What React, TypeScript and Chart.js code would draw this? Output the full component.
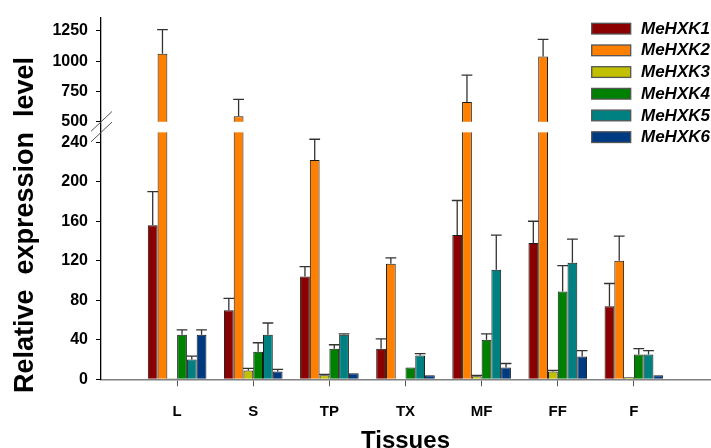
import React, { useEffect, useRef } from 'react';
import { Chart, registerables, LinearScale } from 'chart.js';

const categories = ['L', 'S', 'TP', 'TX', 'MF', 'FF', 'F'];
const seriesNames = ['MeHXK1', 'MeHXK2', 'MeHXK3', 'MeHXK4', 'MeHXK5', 'MeHXK6'];
const seriesColors = ['#8b0000', '#ff8000', '#c0c000', '#008000', '#008080', '#003a80'];

const hxk1 = [156, 70, 104, 31, 146, 138, 74];
const hxk1Err = [34, 12, 10, 10, 35, 22, 23];
const hxk2 = [1062, 545, 222, 117, 663, 1038, 120];
const hxk2Err = [198, 140, 21, 6, 222, 143, 25];
const hxk3 = [1, 9, 4, 0.6, 3, 8, 2];
const hxk3Err = [0, 2, 1, 0, 1, 1, 0];
const hxk4 = [45, 28, 31, 12, 40, 89, 25];
const hxk4Err = [5, 9, 4, 0, 6, 26, 6];
const hxk5 = [20, 45, 45, 24, 111, 118, 25];
const hxk5Err = [3.5, 12, 1, 2, 35, 24, 4];
const hxk6 = [45, 8, 6, 4, 12, 23, 4];
const hxk6Err = [5, 2, 0, 0, 4, 6, 0];

const seriesValues = [hxk1, hxk2, hxk3, hxk4, hxk5, hxk6];
const seriesErrors = [hxk1Err, hxk2Err, hxk3Err, hxk4Err, hxk5Err, hxk6Err];

const yTicks = [0, 40, 80, 120, 160, 200, 240, 500, 750, 1000, 1250];
const breakLow = 250;
const breakHigh = 500;
const yMax = 1360;
// axis segments: value range and relative pixel weight
const segments = [
  { from: 0, to: breakLow, weight: 250.3 },
  { from: breakLow, to: breakHigh, weight: 10.7 },
  { from: breakHigh, to: yMax, weight: 105.6 },
];

const FONT = "'Liberation Sans', Arial, sans-serif";

class BrokenScale extends LinearScale {
  static id = 'broken';
  static defaults = LinearScale.defaults;
  buildTicks() {
    return yTicks.map((v) => ({ value: v }));
  }
  getPixelForValue(value: number) {
    const total = segments.reduce((s, g) => s + g.weight, 0);
    let acc = 0;
    for (let k = 0; k < segments.length; k++) {
      const g = segments[k];
      if (value <= g.to || k === segments.length - 1) {
        const t = (value - g.from) / (g.to - g.from);
        const frac = (acc + t * g.weight) / total;
        return this.bottom - frac * (this.bottom - this.top);
      }
      acc += g.weight;
    }
    return this.bottom;
  }
  getValueForPixel(pixel: number) {
    const total = segments.reduce((s, g) => s + g.weight, 0);
    let w = ((this.bottom - pixel) / (this.bottom - this.top)) * total;
    for (let k = 0; k < segments.length; k++) {
      const g = segments[k];
      if (w <= g.weight || k === segments.length - 1) {
        return g.from + (w / g.weight) * (g.to - g.from);
      }
      w -= g.weight;
    }
    return 0;
  }
}

Chart.register(...registerables, BrokenScale);

const decorPlugin = {
  id: 'decor',
  afterDatasetsDraw(chart: any) {
    const { ctx, chartArea } = chart;
    const y = chart.scales.y;
    const y500 = y.getPixelForValue(breakHigh);
    const y250 = y.getPixelForValue(breakLow);
    ctx.save();
    // white band for the axis break
    ctx.fillStyle = '#ffffff';
    ctx.fillRect(chartArea.left + 1, y500, chartArea.right - chartArea.left, y250 - y500);
    // break marks
    ctx.strokeStyle = '#555555';
    ctx.lineWidth = 1;
    [y500, y250].forEach((py) => {
      ctx.beginPath();
      ctx.moveTo(chartArea.left - 10, py + 9.5);
      ctx.lineTo(chartArea.left + 11, py - 10.3);
      ctx.stroke();
    });
    // error bars
    ctx.strokeStyle = '#333333';
    ctx.lineWidth = 1.3;
    chart.data.datasets.forEach((ds: any, i: number) => {
      const meta = chart.getDatasetMeta(i);
      meta.data.forEach((bar: any, j: number) => {
        const err = seriesErrors[i][j];
        if (!err) return;
        const top = y.getPixelForValue(seriesValues[i][j] + err);
        const hw = bar.width / 2 + 0.5;
        ctx.beginPath();
        ctx.moveTo(bar.x, bar.y);
        ctx.lineTo(bar.x, top);
        ctx.moveTo(bar.x - hw, top);
        ctx.lineTo(bar.x + hw, top);
        ctx.stroke();
      });
    });
    ctx.restore();
  },
  afterDraw(chart: any) {
    const { ctx, chartArea } = chart;
    ctx.save();
    // legend
    const bx = 591.7;
    const by = 23.3;
    const rowH = 21.7;
    chart.data.datasets.forEach((ds: any, i: number) => {
      const top = by + i * rowH;
      ctx.fillStyle = ds.backgroundColor;
      ctx.fillRect(bx, top, 39, 10.7);
      ctx.strokeStyle = '#555555';
      ctx.lineWidth = 1.3;
      ctx.strokeRect(bx, top, 39, 10.7);
      ctx.fillStyle = '#000000';
      ctx.font = `italic bold 17px ${FONT}`;
      ctx.textAlign = 'left';
      ctx.textBaseline = 'middle';
      ctx.fillText(ds.label, 641, top + 5.8);
    });
    // axis titles
    ctx.fillStyle = '#000000';
    ctx.font = `bold 24px ${FONT}`;
    ctx.textAlign = 'center';
    ctx.textBaseline = 'alphabetic';
    ctx.fillText('Tissues', (chartArea.left + chartArea.right) / 2, 448);
    ctx.translate(33, 225);
    ctx.rotate(-Math.PI / 2);
    ctx.font = `bold 27px ${FONT}`;
    ctx.fillText('Relative  expression  level', 0, 0);
    ctx.restore();
  },
};

export default function App() {
  const ref = useRef<HTMLCanvasElement | null>(null);
  useEffect(() => {
    document.body.style.margin = '0';
    if (!ref.current) return;
    const chart = new Chart(ref.current, {
      type: 'bar',
      data: {
        datasets: seriesNames.map((name, i) => ({
          label: name,
          data: categories.map((c, j) => ({ x: j + 1, y: seriesValues[i][j] })),
          backgroundColor: seriesColors[i],
          borderColor: '#1a1a1a',
          borderWidth: 1,
          barPercentage: 1,
          categoryPercentage: 0.77,
        })),
      },
      options: {
        animation: false,
        responsive: false,
        devicePixelRatio: 1,
        layout: { padding: { top: 12.7, right: 1, left: 0, bottom: 0 } },
        plugins: { legend: { display: false }, tooltip: { enabled: false } },
        font: { family: FONT },
        scales: {
          x: {
            type: 'linear',
            min: 0,
            max: 8,
            offset: false,
            afterBuildTicks: (s: any) => {
              s.ticks = categories.map((_, i) => ({ value: i + 1 }));
            },
            afterFit: (s: any) => {
              s.height = 68.7;
            },
            grid: { offset: false, drawOnChartArea: false, drawTicks: true, tickLength: 7, color: '#555555', lineWidth: 1 },
            border: { color: '#808080', width: 1.5 },
            ticks: {
              autoSkip: false,
              maxRotation: 0,
              padding: 17,
              color: '#000000',
              font: { family: FONT, size: 15, weight: 'bold' },
              callback: (v: any) => categories[Number(v) - 1] ?? '',
            },
          },
          y: {
            type: 'broken' as any,
            min: 0,
            max: yMax,
            afterFit: (s: any) => {
              s.width = 101;
            },
            grid: { drawOnChartArea: false, drawTicks: true, tickLength: 5, color: '#000000', lineWidth: 1 },
            border: { color: '#000000', width: 1.3 },
            ticks: {
              autoSkip: false,
              padding: 8,
              color: '#000000',
              font: { family: FONT, size: 16, weight: 'bold' },
              callback: (v: any) => String(v),
            },
          },
        },
      } as any,
      plugins: [decorPlugin],
    });
    return () => chart.destroy();
  }, []);
  return (
    <div style={{ width: 711, height: 448 }}>
      <canvas ref={ref} width={711} height={448} style={{ display: 'block' }} />
    </div>
  );
}
